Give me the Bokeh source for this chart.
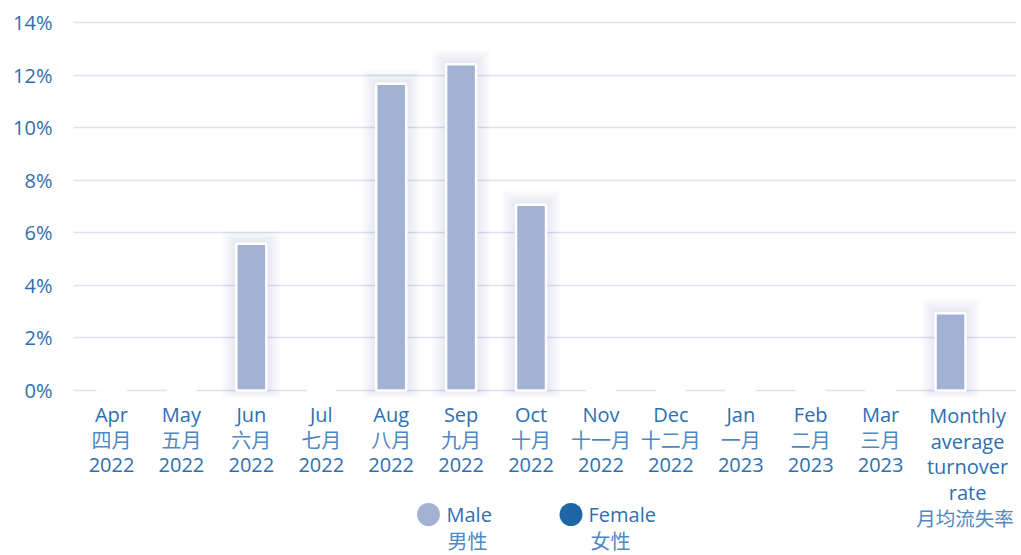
from bokeh.plotting import figure
from bokeh.models import ColumnDataSource, FixedTicker, Range1d
from bokeh.core.properties import value
from bokeh.embed import file_html
from bokeh.resources import INLINE

# ---- data ----
month_en = ["Apr", "May", "Jun", "Jul", "Aug", "Sep", "Oct", "Nov", "Dec", "Jan", "Feb", "Mar"]
month_zh = ["四月", "五月", "六月", "七月", "八月", "九月", "十月", "十一月", "十二月", "一月", "二月", "三月"]
years = ["2022", "2022", "2022", "2022", "2022", "2022", "2022", "2022", "2022", "2023", "2023", "2023"]
avg_label_en = ["Monthly", "average", "turnover", "rate"]
avg_label_zh = "月均流失率"
male = [0, 0, 5.58, 0, 11.67, 12.41, 7.07, 0, 0, 0, 0, 0, 2.94]
female = [0, 0, 0, 0, 0, 0, 0, 0, 0, 0, 0, 0, 0]
y_ticks = [0, 2, 4, 6, 8, 10, 12, 14]
legend_en = ["Male", "Female"]
legend_zh = ["男性", "女性"]

# ---- style / layout ----
W, H = 1016, 555
TXT = "#2e6fb0"
TXT_ZH = "#4f88c2"
MALE_C = "#a3b1d4"
FEMALE_C = "#1f66a6"
GRID_C = "#dce2ef"
GLOW_C = "#6474b4"
FONT = "Open Sans"
FONT_ZH = "Noto Sans CJK SC"

# pixel mapping (canvas coordinates) -> data
PX_PER_X = 69.92
PX_PER_Y = 26.29
X0_PX = 111.0    # x of first category
Y0_PX = 390.0    # y of 0 %
FRAME_LEFT = 73.0
FRAME_TOP = 0.0
FRAME_BOTTOM = float(H)
FRAME_RIGHT = float(W)
AVG_LABEL_SHIFT = 17 / PX_PER_X
AVG_ZH_SHIFT = 14.5 / PX_PER_X


def dx(px):
    return (px - X0_PX) / PX_PER_X


def dy(py):
    return (Y0_PX - py) / PX_PER_Y


p = figure(width=W, height=H, output_backend="svg", toolbar_location=None,
           x_range=Range1d(dx(FRAME_LEFT), dx(FRAME_RIGHT)),
           y_range=Range1d(dy(FRAME_BOTTOM), dy(FRAME_TOP)),
           x_axis_location=None, min_border_left=int(FRAME_LEFT), min_border_right=0,
           min_border_top=0, min_border_bottom=0)
p.outline_line_color = None
p.background_fill_color = "white"
p.border_fill_color = "white"
p.xgrid.grid_line_color = None

yax = p.yaxis[0]
yax.ticker = FixedTicker(ticks=y_ticks)
yax.major_label_overrides = {t: f"{t}%" for t in y_ticks}
yax.axis_line_color = None
yax.major_tick_line_color = None
yax.minor_tick_line_color = None
yax.major_tick_out = 0
yax.major_tick_in = 0
yax.major_label_standoff = 21
yax.major_label_text_font = FONT
yax.major_label_text_font_size = "20px"
yax.major_label_text_color = TXT
p.ygrid.grid_line_color = GRID_C
p.ygrid.grid_line_width = 1.6

n = len(male)
xs = list(range(n))
bar_w = 30 / PX_PER_X

# soft glow behind bars
glow_layers = 12
for k in range(1, glow_layers + 1):
    pad_x = k * 1.2 / PX_PER_X
    pad_t = k * 1.2 / PX_PER_Y
    pad_b = k * 0.6 / PX_PER_Y
    gl, gr, gt, gb = [], [], [], []
    for i, v in enumerate(male):
        if v > 0:
            gl.append(i - bar_w / 2 - pad_x)
            gr.append(i + bar_w / 2 + pad_x)
            gt.append(v + pad_t)
            gb.append(-pad_b)
    p.quad(left=gl, right=gr, top=gt, bottom=gb, fill_color=GLOW_C,
           fill_alpha=0.017, line_color=None)

src = ColumnDataSource(dict(x=xs, male=male, female=female,
                            total=[m + f for m, f in zip(male, female)]))
p.vbar(x="x", top="male", bottom=0, width=bar_w, source=src,
       fill_color=MALE_C, line_color="white", line_width=2.5)
p.vbar(x="x", top="total", bottom="male", width=bar_w, source=src,
       fill_color=FEMALE_C, line_color=None)

# x category labels
LINE = 25.6
y1 = 413.5
en_x, en_y, en_t = [], [], []
zh_x, zh_y, zh_t = [], [], []
for i in range(len(month_en)):
    en_x += [i, i]
    en_y += [dy(y1), dy(y1 + 2 * LINE)]
    en_t += [month_en[i], years[i]]
    zh_x.append(i)
    zh_y.append(dy(y1 + LINE))
    zh_t.append(month_zh[i])
ia = len(month_en) + AVG_LABEL_SHIFT
for j, t in enumerate(avg_label_en):
    en_x.append(ia)
    en_y.append(dy(y1 + 1.5 + j * LINE))
    en_t.append(t)

p.text(x=en_x, y=en_y, text=en_t, text_font=value(FONT), text_font_size="20px",
       text_color=TXT, text_align="center", text_baseline="middle")
p.text(x=zh_x, y=zh_y, text=zh_t, text_font=value(FONT_ZH), text_font_size="20px",
       text_color=TXT_ZH, text_align="center", text_baseline="middle")
p.text(x=[len(month_en) + AVG_ZH_SHIFT], y=[dy(y1 + 1.5 + 4 * LINE)], text=[avg_label_zh],
       text_font=value(FONT_ZH), text_font_size="19.5px",
       text_color=TXT_ZH, text_align="center", text_baseline="middle")

# legend
leg_cx = [dx(428), dx(570.5)]
leg_cy = dy(514)
p.scatter(x=leg_cx, y=[leg_cy, leg_cy], size=23, marker="circle",
          fill_color=[MALE_C, FEMALE_C], line_color=None)
leg_tx = [dx(446), dx(588)]
p.text(x=leg_tx, y=[leg_cy, leg_cy], text=legend_en, text_font=value(FONT),
       text_font_size="20px", text_color=TXT, text_align="left", text_baseline="middle")
p.text(x=[dx(447), dx(590)], y=[dy(540), dy(540)], text=legend_zh, text_font=value(FONT_ZH),
       text_font_size="20px", text_color=TXT_ZH, text_align="left", text_baseline="middle")

open("out.html", "w").write(file_html(p, INLINE))
